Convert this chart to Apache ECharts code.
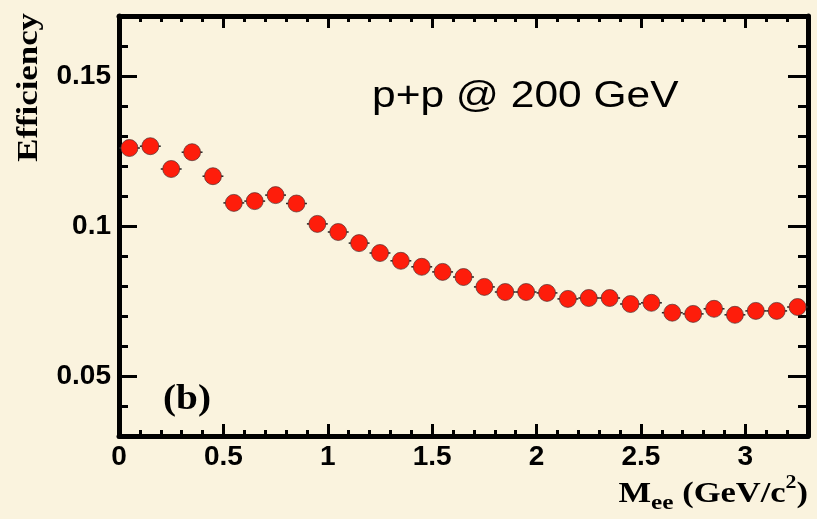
<!DOCTYPE html>
<html>
<head>
<meta charset="utf-8">
<title>Efficiency vs M_ee, p+p @ 200 GeV</title>
<script src="https://cdn.jsdelivr.net/npm/echarts@6/dist/echarts.min.js"></script>
<style>
  html, body { margin: 0; padding: 0; background: #faf3de; }
  #chart { width: 817px; height: 519px; }
</style>
</head>
<body>
<div id="chart"></div>
<script>
// Pair mass bin centres (GeV/c^2)
const massBins = [0.05, 0.15, 0.25, 0.35, 0.45, 0.55, 0.65, 0.75, 0.85, 0.95,
                  1.05, 1.15, 1.25, 1.35, 1.45, 1.55, 1.65, 1.75, 1.85, 1.95,
                  2.05, 2.15, 2.25, 2.35, 2.45, 2.55, 2.65, 2.75, 2.85, 2.95,
                  3.05, 3.15, 3.25];
// Reconstruction efficiency per bin
const efficiency = [0.1260, 0.1266, 0.1190, 0.1246, 0.1166, 0.1077, 0.1083, 0.1103, 0.1075, 0.1007,
                    0.0980, 0.0943, 0.0910, 0.0884, 0.0864, 0.0847, 0.0830, 0.0797, 0.0780, 0.0780,
                    0.0777, 0.0757, 0.0760, 0.0760, 0.0740, 0.0744, 0.0711, 0.0707, 0.0724, 0.0704,
                    0.0717, 0.0717, 0.0730];
// Half width of each mass bin
const binHalfWidth = 0.05;

// Axis ranges and labelled ticks
const xRange = [0, 3.3];
const yRange = [0.03, 0.17];
const xMajorTicks = [0, 0.5, 1, 1.5, 2, 2.5, 3];
const yMajorTicks = [0.05, 0.1, 0.15];
const xMinorStep = 0.1;
const yMinorStep = 0.01;

const SANS = '"Liberation Sans", Arial, Helvetica, sans-serif';
const SERIF = '"Liberation Serif", "Times New Roman", serif';
const INK = '#000';

const points = massBins.map((m, i) => [m, efficiency[i]]);

function frameAxis(base, extra) {
  return Object.assign({
    type: 'value',
    axisLine: { show: true, onZero: false, lineStyle: { color: INK, width: 5 } },
    splitLine: { show: false },
    axisLabel: { show: false }
  }, base, extra);
}

const chart = echarts.init(document.getElementById('chart'), null, { renderer: 'canvas' });

chart.setOption({
  backgroundColor: '#faf3de',
  animation: false,
  grid: { left: 119, top: 16, width: 689, height: 420, containLabel: false },
  xAxis: [
    // bottom: labelled major ticks
    frameAxis({ min: xRange[0], max: xRange[1], position: 'bottom' }, {
      axisTick: { show: true, inside: true, length: 12, customValues: xMajorTicks,
                  lineStyle: { color: INK, width: 3 } },
      axisLabel: { show: true, customValues: xMajorTicks, margin: 7,
                   color: INK, fontFamily: SANS, fontWeight: 'bold', fontSize: 28,
                   formatter: v => String(v) }
    }),
    // bottom: minor ticks
    frameAxis({ min: xRange[0], max: xRange[1], position: 'bottom', offset: 0 }, {
      interval: xMinorStep,
      axisLine: { show: false, onZero: false },
      axisTick: { show: true, inside: true, length: 6, lineStyle: { color: INK, width: 3 } }
    }),
    // top: major ticks
    frameAxis({ min: xRange[0], max: xRange[1], position: 'top' }, {
      axisTick: { show: true, inside: true, length: 12, customValues: xMajorTicks,
                  lineStyle: { color: INK, width: 3 } }
    }),
    // top: minor ticks
    frameAxis({ min: xRange[0], max: xRange[1], position: 'top', offset: 0 }, {
      interval: xMinorStep,
      axisLine: { show: false, onZero: false },
      axisTick: { show: true, inside: true, length: 6, lineStyle: { color: INK, width: 3 } }
    })
  ],
  yAxis: [
    // left: labelled major ticks
    frameAxis({ min: yRange[0], max: yRange[1], position: 'left' }, {
      axisTick: { show: true, inside: true, length: 18, customValues: yMajorTicks,
                  lineStyle: { color: INK, width: 3 } },
      axisLabel: { show: true, customValues: yMajorTicks, margin: 8,
                   color: INK, fontFamily: SANS, fontWeight: 'bold', fontSize: 28,
                   formatter: v => String(v) }
    }),
    // left: minor ticks
    frameAxis({ min: yRange[0], max: yRange[1], position: 'left', offset: 0 }, {
      interval: yMinorStep,
      axisLine: { show: false, onZero: false },
      axisTick: { show: true, inside: true, length: 9, lineStyle: { color: INK, width: 3 } }
    }),
    // right: major ticks
    frameAxis({ min: yRange[0], max: yRange[1], position: 'right', offset: 0 }, {
      axisTick: { show: true, inside: true, length: 20, customValues: yMajorTicks,
                  lineStyle: { color: INK, width: 3 } }
    }),
    // right: minor ticks
    frameAxis({ min: yRange[0], max: yRange[1], position: 'right', offset: 0 }, {
      interval: yMinorStep,
      axisLine: { show: false, onZero: false },
      axisTick: { show: true, inside: true, length: 10, lineStyle: { color: INK, width: 3 } }
    })
  ],
  series: [
    {
      // horizontal bin-width bars behind the markers
      type: 'custom',
      xAxisIndex: 0,
      yAxisIndex: 0,
      z: 2,
      data: points,
      renderItem: function (params, api) {
        const x = api.value(0);
        const y = api.value(1);
        const a = api.coord([x - binHalfWidth, y]);
        const b = api.coord([x + binHalfWidth, y]);
        return {
          type: 'line',
          shape: { x1: a[0], y1: a[1], x2: b[0], y2: b[1] },
          style: { stroke: '#222', lineWidth: 1.5 }
        };
      }
    },
    {
      type: 'scatter',
      xAxisIndex: 0,
      yAxisIndex: 0,
      z: 3,
      data: points,
      symbol: 'circle',
      symbolSize: 17,
      itemStyle: { color: '#fe1d0b', borderColor: 'rgba(80,50,50,0.7)', borderWidth: 1, opacity: 1 }
    }
  ],
  graphic: [
    {
      type: 'text',
      x: 29, y: 13,
      rotation: Math.PI / 2,
      scaleX: 1.16,
      style: {
        text: 'Efficiency',
        fill: INK,
        font: 'bold 30px ' + SERIF,
        align: 'right',
        verticalAlign: 'middle'
      }
    },
    {
      type: 'text',
      x: 808, y: 494,
      scaleX: 1.15,
      style: {
        text: '{m|M}{s|ee}{m| (GeV/c}{p|2}{m|)}',
        fill: INK,
        align: 'right',
        verticalAlign: 'middle',
        rich: {
          m: { fontFamily: SERIF, fontWeight: 'bold', fontSize: 30, lineHeight: 40, fill: INK },
          s: { fontFamily: SERIF, fontWeight: 'bold', fontSize: 22, lineHeight: 22,
               verticalAlign: 'bottom', fill: INK },
          p: { fontFamily: SERIF, fontWeight: 'bold', fontSize: 19, lineHeight: 19,
               verticalAlign: 'top', fill: INK }
        }
      }
    },
    {
      type: 'text',
      x: 372, y: 97,
      scaleX: 1.18,
      style: {
        text: 'p+p @ 200 GeV',
        fill: INK,
        font: '36px ' + SANS,
        align: 'left',
        verticalAlign: 'middle'
      }
    },
    {
      type: 'text',
      x: 187, y: 400,
      scaleX: 1.12,
      style: {
        text: '(b)',
        fill: INK,
        font: 'bold 35px ' + SERIF,
        align: 'center',
        verticalAlign: 'middle'
      }
    }
  ]
});
</script>
</body>
</html>
